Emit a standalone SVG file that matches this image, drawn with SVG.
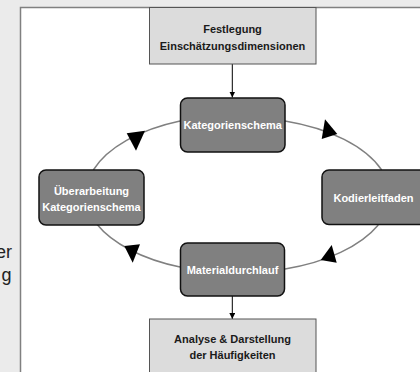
<svg xmlns="http://www.w3.org/2000/svg" width="420" height="372" viewBox="0 0 420 372">
<defs>
<style>
.t{font-family:"Liberation Sans",Arial,sans-serif;font-weight:bold;font-size:11px;text-anchor:middle}
.dk{fill:#1a1a1a}
.wh{fill:#ffffff}
.sq{fill:#dcdcdc;stroke:#555555;stroke-width:1}
.rd{fill:#808080;stroke:#111111;stroke-width:1.5}
.arc{fill:none;stroke:#808080;stroke-width:1.5}
.ah{fill:#000000}
.ln{stroke:#000000;stroke-width:1;fill:none}
</style>
<marker id="arr" viewBox="0 0 6 6" refX="6" refY="3" markerWidth="6" markerHeight="6" markerUnits="userSpaceOnUse" orient="auto">
<path d="M0,0 L6,3 L0,6 Z" fill="#000000"/>
</marker>
</defs>
<rect x="0" y="0" width="420" height="372" fill="#ebebeb"/>
<rect x="20.5" y="7.5" width="420" height="380" fill="#ffffff" stroke="#808080" stroke-width="1.5"/>
<g id="side-text" font-family="Liberation Sans, Arial, sans-serif" font-size="18" fill="#222222" text-anchor="end">
<text x="12" y="258">er</text>
<text x="11.5" y="281">g</text>
</g>
<g id="connectors">
<path class="arc" d="M93.3,170 A150 80 0 0 1 180,121"/>
<path class="arc" d="M285,121 A150 80 0 0 1 381.7,170"/>
<path class="arc" d="M378.3,225 A150 80 0 0 1 285,269"/>
<path class="arc" d="M180,267 A150 80 0 0 1 96.7,224"/>
<polygon class="ah" points="126.7,133.3 145,130.7 136,150.7"/>
<polygon class="ah" points="325,119.3 321.7,139 337.3,134"/>
<polygon class="ah" points="331.7,245 320.7,260 336.7,262.7"/>
<polygon class="ah" points="124.3,246 140,244.3 132.7,262.7"/>
<line class="ln" x1="232.3" y1="64" x2="232.3" y2="97.5" marker-end="url(#arr)"/>
<line class="ln" x1="232.3" y1="296" x2="232.3" y2="319" marker-end="url(#arr)"/>
</g>
<g id="festlegung">
<rect class="sq" x="149.5" y="7.5" width="166.5" height="56.5"/>
<text class="t dk" x="232.5" y="33">Festlegung</text>
<text class="t dk" x="232.5" y="49.5">Einschätzungsdimensionen</text>
</g>
<g id="kategorienschema">
<rect class="rd" x="180.5" y="98" width="104.5" height="54" rx="7"/>
<text class="t wh" x="232.7" y="129">Kategorienschema</text>
</g>
<g id="kodierleitfaden">
<rect class="rd" x="322" y="170" width="105" height="54.5" rx="7"/>
<text class="t wh" x="373.5" y="202">Kodierleitfaden</text>
</g>
<g id="materialdurchlauf">
<rect class="rd" x="180.5" y="243" width="104" height="53" rx="7"/>
<text class="t wh" x="232.5" y="273.5">Materialdurchlauf</text>
</g>
<g id="ueberarbeitung">
<rect class="rd" x="39" y="170" width="105" height="55" rx="7"/>
<text class="t wh" x="91.5" y="195">Überarbeitung</text>
<text class="t wh" x="91.5" y="211">Kategorienschema</text>
</g>
<g id="analyse">
<rect class="sq" x="149.5" y="319" width="166.5" height="60"/>
<text class="t dk" x="232.5" y="343">Analyse &amp; Darstellung</text>
<text class="t dk" x="232.5" y="359">der Häufigkeiten</text>
</g>
</svg>
